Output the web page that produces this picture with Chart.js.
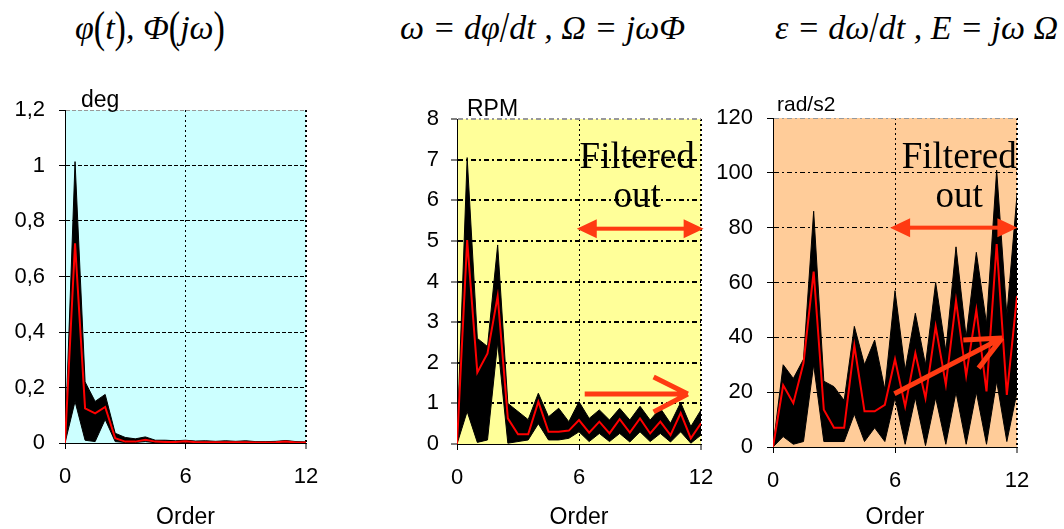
<!DOCTYPE html>
<html>
<head>
<meta charset="utf-8">
<script src="https://cdn.jsdelivr.net/npm/chart.js@4.4.1/dist/chart.umd.min.js"></script>
<style>
  html, body { margin: 0; padding: 0; background: #fff; }
  #wrap { position: relative; width: 1064px; height: 529px; overflow: hidden; }
  canvas { position: absolute; left: 0; top: 0; }
  .eq { position: absolute; top: 9px; font-family: "Liberation Serif", serif; font-style: italic; font-size: 34px; white-space: nowrap; color: #000; }
  .eq .p { display: inline-block; transform: scaleY(1.3); font-style: normal; }
</style>
</head>
<body>
<div id="wrap">
  <div class="eq" style="left:75px">φ<span class="p">(</span>t<span class="p">)</span>, Φ<span class="p">(</span>jω<span class="p">)</span></div>
  <div class="eq" style="left:400px">ω = dφ<span class="p">/</span>dt , Ω = jωΦ</div>
  <div class="eq" style="left:775px">ε = dω<span class="p">/</span>dt , E = jω Ω</div>
  <canvas id="c1" width="1064" height="529"></canvas>
  <canvas id="c2" width="1064" height="529"></canvas>
  <canvas id="c3" width="1064" height="529"></canvas>
</div>
<script>
'use strict';

// orders of the spectrum (half-order resolution)
var orders = [0, 0.5, 1, 1.5, 2, 2.5, 3, 3.5, 4, 4.5, 5, 5.5, 6, 6.5, 7, 7.5, 8, 8.5, 9, 9.5, 10, 10.5, 11, 11.5, 12];
var xTicks = [0, 6, 12];

// angle amplitude, deg: mean of all runs and the spread (max / min) of the run ensemble
var meanDeg = [0, 0.72, 0.125, 0.107, 0.13, 0.017, 0.005, 0.005, 0.012, 0.005, 0.004, 0.004, 0.006, 0.003, 0.003, 0.003, 0.003, 0.003, 0.003, 0.002, 0.002, 0.003, 0.005, 0.002, 0.002];
var maxDeg  = [0, 1.014, 0.22, 0.15, 0.175, 0.035, 0.02, 0.015, 0.022, 0.01, 0.01, 0.008, 0.01, 0.007, 0.008, 0.006, 0.008, 0.006, 0.008, 0.005, 0.005, 0.006, 0.009, 0.005, 0.004];
var minDeg  = [0, 0.15, 0.01, 0.005, 0.085, 0.005, 0.002, 0.002, 0.005, 0.001, 0.001, 0.001, 0.002, 0.001, 0.001, 0.001, 0.001, 0.001, 0.001, 0.001, 0.001, 0.001, 0.001, 0.001, 0.001];
var degTicks = [0, 0.2, 0.4, 0.6, 0.8, 1, 1.2];

// speed amplitude, RPM
var meanRpm = [0, 5.02, 1.76, 2.23, 3.64, 0.63, 0.24, 0.24, 1.04, 0.30, 0.30, 0.33, 0.59, 0.28, 0.55, 0.26, 0.61, 0.28, 0.63, 0.26, 0.55, 0.22, 0.76, 0.14, 0.51];
var maxRpm  = [0.1, 7.05, 2.6, 2.4, 4.9, 1.0, 0.8, 0.6, 1.25, 0.67, 0.88, 0.55, 1.04, 0.63, 0.84, 0.59, 0.88, 0.59, 0.93, 0.59, 0.88, 0.51, 1.02, 0.43, 0.84];
var minRpm  = [0, 0.8, 0.04, 0.1, 2.5, 0.02, 0.06, 0.1, 0.5, 0.1, 0.1, 0.14, 0.3, 0.06, 0.26, 0.06, 0.26, 0.05, 0.3, 0.06, 0.26, 0.05, 0.3, 0.02, 0.22];
var rpmTicks = [0, 1, 2, 3, 4, 5, 6, 7, 8];

// acceleration amplitude, rad/s2
var meanAcc = [0, 22.5, 16, 30.6, 64, 13.6, 7, 7, 37, 13, 13, 15.4, 32, 14.8, 34.2, 17.8, 44, 22.7, 53.4, 26, 50, 20.3, 74, 19, 55];
var maxAcc  = [0, 30, 25, 32, 86, 24, 22, 17, 44, 30, 39, 21, 57, 28, 48.8, 30, 60, 35, 73, 40, 71, 45, 101, 48, 92];
var minAcc  = [0, 3.8, 1, 2, 30, 2, 2, 2, 12, 2, 7, 2, 18, 1, 18, 0.5, 18, 1, 20, 1, 20, 1, 24, 2, 20];
var accTicks = [0, 20, 40, 60, 80, 100, 120];

var W = 1064, H = 529;
var ARROW = '#ff3a12';
var sans = 'Liberation Sans, Arial, sans-serif';
var serif = 'Liberation Serif, Times New Roman, serif';

function pts(ys) {
    return orders.map(function(o, i) { return {x: o, y: ys[i]}; });
}

function comma(v) {
    return String(Math.round(v * 100) / 100).replace('.', ',');
}

// fills the plotting area with the panel colour
var plotBg = {
    id: 'plotBg',
    beforeDraw: function(chart, args, opts) {
        var a = chart.chartArea, ctx = chart.ctx;
        ctx.save();
        ctx.fillStyle = opts.color;
        ctx.fillRect(a.left, a.top, a.right - a.left, a.bottom - a.top);
        ctx.restore();
    }
};

function doubleArrow(ctx, x1, x2, y, th, hl, hh) {
    ctx.fillRect(x1 + hl - 1, y - th / 2, x2 - x1 - 2 * hl + 2, th);
    ctx.beginPath();
    ctx.moveTo(x1, y); ctx.lineTo(x1 + hl, y - hh); ctx.lineTo(x1 + hl, y + hh); ctx.closePath();
    ctx.moveTo(x2, y); ctx.lineTo(x2 - hl, y - hh); ctx.lineTo(x2 - hl, y + hh); ctx.closePath();
    ctx.fill();
}

// unit label, "Filtered out" note and the red arrows
var notes = {
    id: 'notes',
    afterDraw: function(chart, args, o) {
        var ctx = chart.ctx, a = chart.chartArea, sx = chart.scales.x, sy = chart.scales.y;
        ctx.save();
        ctx.fillStyle = '#000';
        ctx.textBaseline = 'alphabetic';
        ctx.textAlign = 'left';
        ctx.font = o.unitSize + 'px ' + sans;
        ctx.fillText(o.unit, a.left + o.unitDx, a.top + o.unitDy);

        if (o.filtered) {
            var f = o.filtered;
            ctx.font = '37px ' + serif;
            ctx.textAlign = 'center';
            ctx.fillText('Filtered', sx.getPixelForValue(f.x), sy.getPixelForValue(f.y1));
            ctx.fillText('out', sx.getPixelForValue(f.x), sy.getPixelForValue(f.y2));
        }
        ctx.fillStyle = ARROW;
        ctx.strokeStyle = ARROW;
        if (o.span) {
            doubleArrow(ctx, sx.getPixelForValue(o.span.x1), sx.getPixelForValue(o.span.x2),
                sy.getPixelForValue(o.span.y), 4, 20, 9.5);
        }
        if (o.trend) {
            var t = o.trend;
            ctx.lineWidth = 5;
            ctx.lineCap = 'butt';
            var tip = [sx.getPixelForValue(t.tip[0]), sy.getPixelForValue(t.tip[1])];
            ctx.beginPath();
            ctx.moveTo(sx.getPixelForValue(t.tail[0]), sy.getPixelForValue(t.tail[1]));
            ctx.lineTo(tip[0], tip[1]);
            t.arms.forEach(function(p) {
                ctx.moveTo(tip[0], tip[1]);
                ctx.lineTo(sx.getPixelForValue(p[0]), sy.getPixelForValue(p[1]));
            });
            ctx.stroke();
        }
        ctx.restore();
    }
};

function panel(id, box, yTicks, mean, hi, lo, bg, grid, note) {
    var top = yTicks[yTicks.length - 1];
    new Chart(document.getElementById(id), {
        type: 'line',
        data: {
            datasets: [
                { data: pts(mean), borderColor: '#ff0000', borderWidth: 2, pointRadius: 0, fill: false },
                { data: pts(hi), borderColor: '#000', borderWidth: 1, backgroundColor: '#000', pointRadius: 0, fill: '+1' },
                { data: pts(lo), borderColor: '#000', borderWidth: 1, pointRadius: 0, fill: false }
            ]
        },
        options: {
            responsive: false,
            animation: false,
            layout: { padding: { left: box.left - box.yw, right: W - box.right, top: box.top, bottom: 0 } },
            plugins: {
                legend: { display: false },
                tooltip: { enabled: false },
                plotBg: { color: bg },
                notes: note
            },
            scales: {
                x: {
                    type: 'linear',
                    min: xTicks[0],
                    max: xTicks[xTicks.length - 1],
                    afterBuildTicks: function(s) { s.ticks = xTicks.map(function(v) { return {value: v}; }); },
                    afterFit: function(s) { s.height = H - box.bottom; },
                    ticks: { color: '#000', font: { family: sans, size: 22 }, padding: 15, maxRotation: 0 },
                    grid: {
                        color: function(c) { return c.tick && c.tick.value === 0 ? 'rgba(0,0,0,0)' : '#000'; },
                        lineWidth: function(c) { return c.tick && c.tick.value === 12 ? 2 : 1; },
                        tickColor: '#000', tickWidth: 1, tickLength: 6
                    },
                    border: { color: '#000', width: 1, dash: [2, 3] },
                    title: { display: true, text: 'Order', color: '#000', padding: 0, font: { family: sans, size: 23, lineHeight: 1 } }
                },
                y: {
                    min: yTicks[0],
                    max: top,
                    afterBuildTicks: function(s) { s.ticks = yTicks.map(function(v) { return {value: v}; }); },
                    afterFit: function(s) { s.width = box.yw; },
                    ticks: { color: '#000', font: { family: sans, size: 22 }, padding: box.ypad, callback: comma },
                    grid: {
                        color: function(c) {
                            if (!c.tick || c.tick.value === 0) return 'rgba(0,0,0,0)';
                            return c.tick.value === top ? '#999' : '#000';
                        },
                        lineWidth: grid.width,
                        tickColor: '#000', tickWidth: 1, tickLength: 6
                    },
                    border: { color: '#000', width: 1, dash: grid.dash }
                }
            }
        },
        plugins: [plotBg, notes]
    });
}

panel('c1', { left: 65, right: 306, top: 110, bottom: 443, yw: 65, ypad: 14 }, degTicks,
    meanDeg, maxDeg, minDeg, '#ccffff', { width: 1, dash: [4, 2] },
    { unit: 'deg', unitSize: 23, unitDx: 16, unitDy: -3 });

panel('c2', { left: 457, right: 701, top: 119, bottom: 444, yw: 60, ypad: 12 }, rpmTicks,
    meanRpm, maxRpm, minRpm, '#ffff99', { width: 2, dash: [5, 3, 2, 3] },
    { unit: 'RPM', unitSize: 23, unitDx: 10, unitDy: -3,
      filtered: { x: 8.86, y1: 6.79, y2: 5.84 },
      span: { x1: 5.89, x2: 12.13, y: 5.3 },
      trend: { tail: [6.28, 1.23], tip: [11.35, 1.23], arms: [[9.67, 1.65], [9.67, 0.79]] } });

panel('c3', { left: 773, right: 1017, top: 118, bottom: 447, yw: 60, ypad: 14 }, accTicks,
    meanAcc, maxAcc, minAcc, '#ffcc99', { width: 1, dash: [5, 3, 2, 3] },
    { unit: 'rad/s2', unitSize: 21, unitDx: 4, unitDy: -7,
      filtered: { x: 9.16, y1: 101.6, y2: 87.6 },
      span: { x1: 5.76, x2: 12.02, y: 80 },
      trend: { tail: [5.97, 19.4], tip: [11.27, 39.8], arms: [[9.36, 39.06], [10.11, 28.76]] } });
</script>
</body>
</html>
